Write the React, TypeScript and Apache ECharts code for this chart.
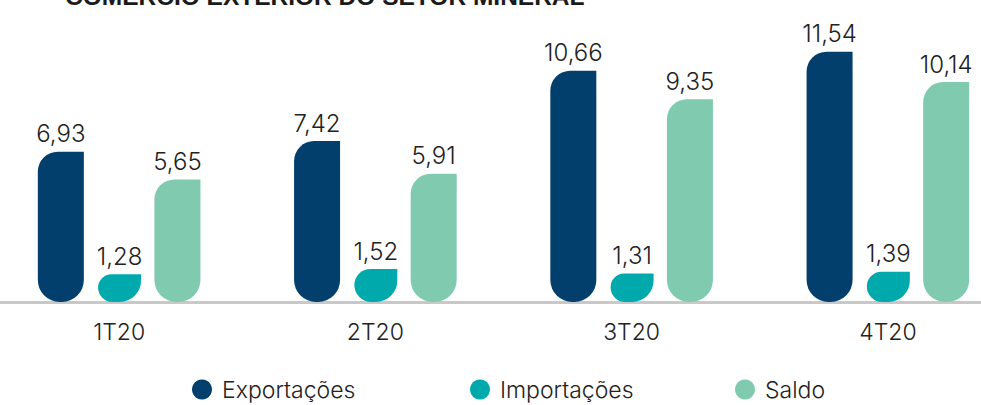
import React, { useEffect, useRef } from "react";
import * as echarts from "echarts";

const categories = ["1T20", "2T20", "3T20", "4T20"];
const exportacoes = [6.93, 7.42, 10.66, 11.54];
const importacoes = [1.28, 1.52, 1.31, 1.39];
const saldo = [5.65, 5.91, 9.35, 10.14];
const seriesNames = ["Exportações", "Importações", "Saldo"];
const colors = ["#023F6D", "#00A9AC", "#80CBB0"];
const title = "COMÉRCIO EXTERIOR DO SETOR MINERAL";

const FONT = "Inter";
const OFFSET = 9; // chart canvas starts 9px left of the page edge
const legendLefts = [192, 470, 735];

export default function App() {
  const ref = useRef<HTMLDivElement>(null);
  useEffect(() => {
    if (!ref.current) return;
    const chart = echarts.init(ref.current, undefined, { renderer: "svg" });
    const label = {
      show: true,
      position: "top" as const,
      distance: 6,
      color: "#222",
      fontFamily: FONT,
      fontWeight: 300,
      fontSize: 24,
      formatter: (p: any) => Number(p.value).toFixed(2).replace(".", ","),
    };
    const mk = (name: string, data: number[], color: string, width: number) => ({
      name,
      type: "bar",
      data,
      barWidth: width,
      barGap: "31%",
      itemStyle: { color, borderRadius: [20, 0, 22, 22] },
      label,
    });
    chart.setOption({
      animation: false,
      graphic: [
        {
          type: "text",
          left: 65 + OFFSET,
          top: -16,
          style: {
            text: title,
            fill: "#1a1a1a",
            font: "bold 24.5px 'Liberation Sans', Arial, sans-serif",
          },
        },
      ],
      legend: seriesNames.map((n, i) => ({
        left: legendLefts[i] + OFFSET,
        top: 378,
        padding: 0,
        itemWidth: 20,
        itemHeight: 21,
        icon: "circle",
        textStyle: {
          fontFamily: FONT,
          fontWeight: 300,
          fontSize: 23,
          color: "#222",
          padding: [0, 0, 0, 5],
        },
        data: [n],
      })),
      grid: { left: 0, right: 0, top: 20, bottom: 103, containLabel: false },
      xAxis: {
        type: "category",
        data: categories,
        axisLine: { show: true, lineStyle: { color: "#C8C8C8", width: 3 } },
        axisTick: { show: false },
        axisLabel: {
          margin: 18,
          color: "#222",
          fontFamily: FONT,
          fontWeight: 300,
          fontSize: 23,
        },
      },
      yAxis: {
        type: "value",
        min: 0,
        max: 13,
        show: false,
        splitLine: { show: false },
      },
      series: [
        mk(seriesNames[0], exportacoes, colors[0], 46),
        mk(seriesNames[1], importacoes, colors[1], 43),
        mk(seriesNames[2], saldo, colors[2], 46),
      ],
    });
    return () => chart.dispose();
  }, []);
  return (
    <div
      style={{
        position: "absolute",
        left: 0,
        top: 0,
        width: 981,
        height: 405,
        overflow: "hidden",
      }}
    >
      <div
        ref={ref}
        style={{
          position: "absolute",
          left: -OFFSET,
          top: 0,
          width: 1025,
          height: 405,
        }}
      />
    </div>
  );
}
